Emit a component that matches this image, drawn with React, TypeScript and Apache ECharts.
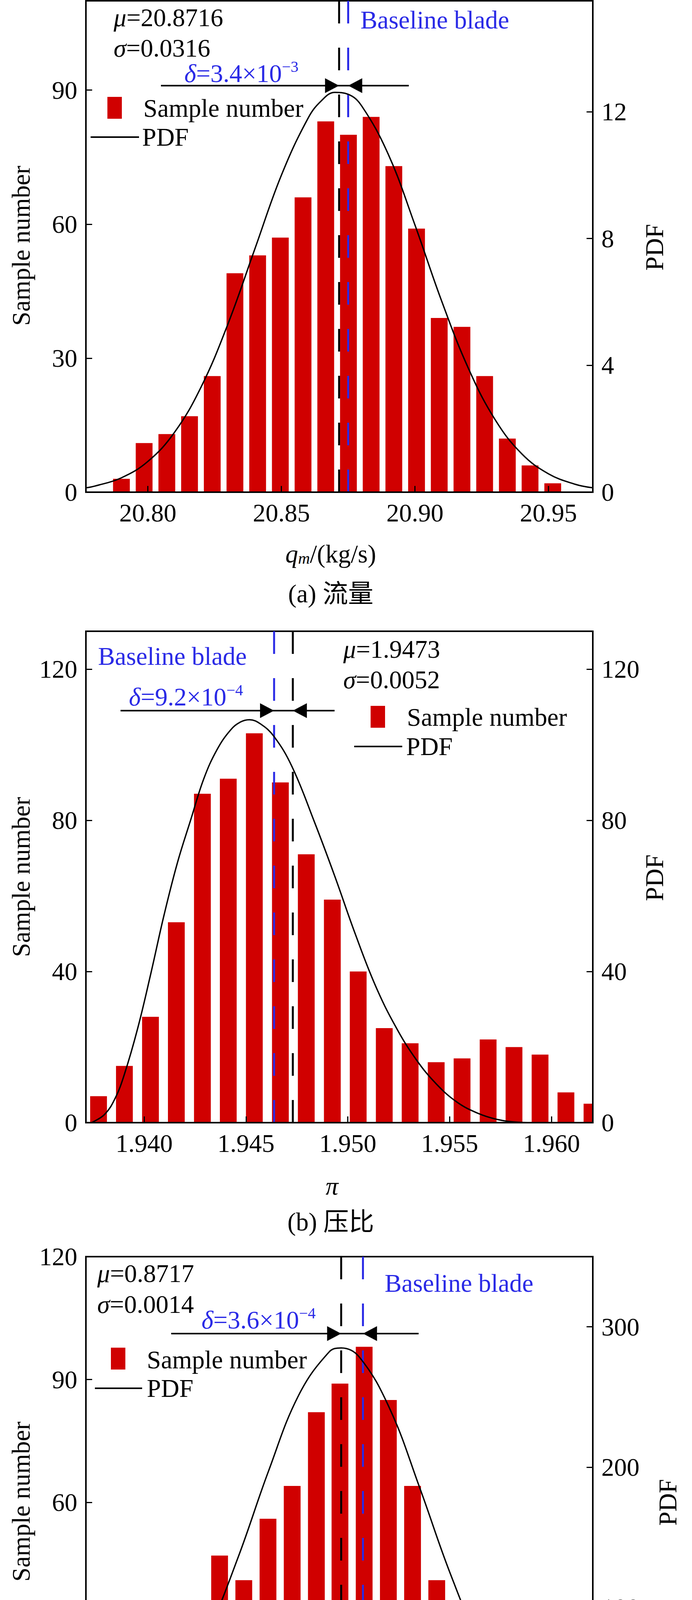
import { useEffect, useRef } from 'react';
import * as echarts from 'echarts';

// ---------- (a) 流量 ----------
const flowBins = [20.7901, 20.7986, 20.8071, 20.8156, 20.8241, 20.8326, 20.8411, 20.8496, 20.8581, 20.8666, 20.8751, 20.8836, 20.8921, 20.9006, 20.9091, 20.9176, 20.9261, 20.9346, 20.9431, 20.9516];
const flowCounts = [3, 11, 13, 17, 26, 49, 53, 57, 66, 83, 80, 84, 73, 59, 39, 37, 26, 12, 6, 2];
const flowPdfX = [20.777, 20.78, 20.79, 20.8, 20.81, 20.82, 20.83, 20.84, 20.85, 20.86, 20.865, 20.87, 20.875, 20.88, 20.89, 20.9, 20.91, 20.92, 20.93, 20.94, 20.95, 20.96, 20.9665];
const flowPdfY = [0.14, 0.19, 0.45, 0.97, 1.89, 3.33, 5.31, 7.66, 10.0, 11.8, 12.35, 12.61, 12.55, 12.19, 10.66, 8.43, 6.03, 3.91, 2.29, 1.21, 0.58, 0.25, 0.14];
const flowRange = [20.7768, 20.9666];
const flowTicks = [20.8, 20.85, 20.9, 20.95];
const flowCountTicks = [0, 30, 60, 90];
const flowPdfTicks = [0, 4, 8, 12];
const flowMu = 20.8716;
const flowBase = 20.875;
const flowArrow = [20.8049, 20.8977];

// ---------- (b) 压比 ----------
const ratioBins = [1.93776, 1.93903, 1.94031, 1.94158, 1.94286, 1.94413, 1.94541, 1.94669, 1.94796, 1.94924, 1.95051, 1.95179, 1.95306, 1.95434, 1.95561, 1.95689, 1.95816, 1.95944, 1.96071, 1.96199];
const ratioCounts = [7, 15, 28, 53, 87, 91, 103, 90, 71, 59, 40, 25, 21, 16, 17, 22, 20, 18, 8, 5];
const ratioPdfX = [1.93741, 1.93806, 1.93858, 1.93903, 1.93968, 1.94033, 1.94098, 1.94163, 1.94228, 1.94293, 1.94358, 1.94423, 1.94473, 1.94517, 1.94571, 1.94637, 1.94725, 1.94835, 1.94936, 1.95036, 1.95136, 1.95236, 1.95337, 1.95437, 1.95537, 1.95638, 1.95738, 1.95838, 1.95939];
const ratioPdfY = [0, 2.2, 6.5, 12.8, 24.9, 39.5, 55, 68.7, 80, 91, 98.7, 103.8, 106, 106.6, 105.5, 102.2, 94.3, 79.7, 65.2, 50, 36.2, 25.3, 16.6, 10.1, 5.4, 2.5, 0.8, 0.1, 0];
const ratioRange = [1.93714, 1.96203];
const ratioTicks = [1.94, 1.945, 1.95, 1.955, 1.96];
const ratioCountTicks = [0, 40, 80, 120];
const ratioPdfTicks = [0, 40, 80, 120];
const ratioMu = 1.9473;
const ratioBase = 1.94638;
const ratioArrow = [1.93884, 1.94935];

// ---------- (c) 效率 ----------
const effBins = [0.86769, 0.86809, 0.86849, 0.86889, 0.86929, 0.86969, 0.87009, 0.87049, 0.87089, 0.87129, 0.87168, 0.87208, 0.87248, 0.87288, 0.87328, 0.87368, 0.87408, 0.87448, 0.87488, 0.87528];
const effCounts = [2, 5, 11, 13, 17, 47, 41, 56, 64, 82, 89, 98, 85, 64, 41, 35, 22, 15, 7, 2];
const effPdfX = [0.8675, 0.868, 0.8685, 0.869, 0.8695, 0.87, 0.8705, 0.871, 0.8715, 0.8717, 0.872, 0.8725, 0.873, 0.8735, 0.874, 0.8745, 0.875, 0.8755, 0.87586];
const effPdfY = [3.2, 8.7, 20.9, 44.4, 82.9, 136.3, 197.4, 251.5, 282.1, 285, 278.5, 242, 185.2, 124.7, 73.9, 38.6, 17.7, 7.2, 3.5];
const effRange = [0.86748, 0.87586];
const effTicks = [0.868, 0.87, 0.872, 0.874];
const effCountTicks = [0, 30, 60, 90, 120];
const effPdfTicks = [0, 100, 200, 300];
const effMu = 0.8717;
const effBase = 0.87206;
const effArrow = [0.86889, 0.87298];

const RED = '#d00000';
const BLUE = '#2a2ae6';
const SERIF = '"Liberation Serif", "Times New Roman", serif';
const CAPTION_FONT = '"Liberation Serif", "Noto Sans CJK SC", serif';
const FS = 65;

const GRID_LEFT = 220;
const GRID_WIDTH = 1298;
const GRID_HEIGHT = 1258;
const BAR_W = 43;

const panels = [
  {
    top: 2, range: flowRange, ticks: flowTicks, digits: 2,
    countMax: 110, countTicks: flowCountTicks, pdfMax: 15.5, pdfTicks: flowPdfTicks,
    bins: flowBins, counts: flowCounts, pdfX: flowPdfX, pdfY: flowPdfY,
    mu: flowMu, base: flowBase, arrowSpan: flowArrow, arrowLevel: 91,
  },
  {
    top: 1616, range: ratioRange, ticks: ratioTicks, digits: 3,
    countMax: 130, countTicks: ratioCountTicks, pdfMax: 130, pdfTicks: ratioPdfTicks,
    bins: ratioBins, counts: ratioCounts, pdfX: ratioPdfX, pdfY: ratioPdfY,
    mu: ratioMu, base: ratioBase, arrowSpan: ratioArrow, arrowLevel: 109,
  },
  {
    top: 3217, range: effRange, ticks: effTicks, digits: 3,
    countMax: 120, countTicks: effCountTicks, pdfMax: 350, pdfTicks: effPdfTicks,
    bins: effBins, counts: effCounts, pdfX: effPdfX, pdfY: effPdfY,
    mu: effMu, base: effBase, arrowSpan: effArrow, arrowLevel: 101.2,
  },
];

const rich = {
  n: { fontSize: FS, fontFamily: SERIF, lineHeight: 70, verticalAlign: 'bottom' },
  i: { fontSize: FS, fontFamily: SERIF, fontStyle: 'italic', lineHeight: 70, verticalAlign: 'bottom' },
  sup: { fontSize: 40, fontFamily: SERIF, lineHeight: 40, verticalAlign: 'top' },
  sub: { fontSize: 42, fontFamily: SERIF, fontStyle: 'italic', lineHeight: 42, verticalAlign: 'bottom' },
};

function text(x: number, y: number, t: string, fill = '#000', align = 'left', extra: any = {}, font = SERIF) {
  return {
    type: 'text',
    x,
    y,
    silent: true,
    z: 100,
    ...extra,
    style: { text: t, fill, fontSize: FS, fontFamily: font, align, verticalAlign: 'middle', rich },
  };
}

function legend(rectX: number, rectY: number, textX: number, textY: number, lineX1: number, lineX2: number, lineY: number, pdfX: number) {
  return [
    { type: 'rect', shape: { x: rectX, y: rectY, width: 37, height: 56 }, style: { fill: RED }, z: 100 },
    text(textX, textY, 'Sample number'),
    { type: 'line', shape: { x1: lineX1, y1: lineY, x2: lineX2, y2: lineY }, style: { stroke: '#000', lineWidth: 4 }, z: 100 },
    text(pdfX, lineY, 'PDF'),
  ];
}

// vertical dashed marker from the top of the frame down to zero
function dashed(i: number, x: number, top: number, color: string) {
  return {
    type: 'line', xAxisIndex: i, yAxisIndex: 2 * i,
    data: [[x, top], [x, 0]], symbol: 'none', silent: true, z: 3,
    lineStyle: { color, type: [58, 62], width: 5 },
  };
}

export default function App() {
  const chartRef = useRef<HTMLDivElement>(null);

  useEffect(() => {
    if (!chartRef.current) return;
    document.body.style.margin = '0';
    const chart = echarts.init(chartRef.current, null, { renderer: 'svg' });

    const axisLabelBase = { color: '#000', fontSize: FS, fontFamily: SERIF };
    const tickBase = { show: true, inside: true, length: 16, lineStyle: { color: '#000', width: 3 } };
    const lineBase = { show: true, onZero: false, lineStyle: { color: '#000', width: 4 } };

    const option: any = {
      animation: false,
      backgroundColor: '#fff',
      grid: panels.map((p) => ({
        left: GRID_LEFT, width: GRID_WIDTH, top: p.top, height: GRID_HEIGHT,
        show: true, borderColor: '#000', borderWidth: 4, backgroundColor: 'transparent',
      })),
      xAxis: panels.map((p, i) => ({
        type: 'value', gridIndex: i, min: p.range[0], max: p.range[1], z: 10,
        axisLine: lineBase,
        axisTick: { ...tickBase, customValues: p.ticks },
        axisLabel: { ...axisLabelBase, margin: 20, customValues: p.ticks, formatter: (v: number) => v.toFixed(p.digits) },
        splitLine: { show: false },
      })),
      yAxis: panels.flatMap((p, i) => [
        {
          type: 'value', gridIndex: i, position: 'left', min: 0, max: p.countMax, z: 10,
          axisLine: lineBase,
          axisTick: { ...tickBase, customValues: p.countTicks },
          axisLabel: { ...axisLabelBase, margin: 22, customValues: p.countTicks },
          splitLine: { show: false },
        },
        {
          type: 'value', gridIndex: i, position: 'right', min: 0, max: p.pdfMax, z: 10,
          axisLine: lineBase,
          axisTick: { ...tickBase, customValues: p.pdfTicks },
          axisLabel: { ...axisLabelBase, margin: 22, customValues: p.pdfTicks },
          splitLine: { show: false },
        },
      ]),
      series: panels.flatMap((p, i) => [
        {
          // histogram bars, clipped at the frame like the original
          type: 'custom', name: 'Sample number', xAxisIndex: i, yAxisIndex: 2 * i,
          data: p.bins.map((b, k) => [b, p.counts[k]]),
          z: 2,
          renderItem: (params: any, api: any) => {
            const top = api.coord([api.value(0), api.value(1)]);
            const base = api.coord([api.value(0), 0]);
            const cs = params.coordSys;
            const shape = echarts.graphic.clipRectByRect(
              { x: top[0] - BAR_W / 2, y: top[1], width: BAR_W, height: base[1] - top[1] },
              { x: cs.x, y: cs.y, width: cs.width, height: cs.height },
            );
            return shape && { type: 'rect', shape, style: { fill: RED } };
          },
        },
        dashed(i, p.mu, p.countMax, '#000'),
        dashed(i, p.base, p.countMax, BLUE),
        {
          type: 'line', name: 'PDF', xAxisIndex: i, yAxisIndex: 2 * i + 1,
          data: p.pdfX.map((x, k) => [x, p.pdfY[k]]),
          smooth: 0.4, symbol: 'none', clip: true, z: 4,
          lineStyle: { color: '#000', width: 3.5 },
        },
      ]),
    };

    chart.setOption(option);

    const px = (axis: number, v: number) => chart.convertToPixel({ xAxisIndex: axis }, v) as number;
    const py = (axis: number, v: number) => chart.convertToPixel({ yAxisIndex: axis }, v) as number;

    const arrows = panels.flatMap((p, i) => {
      const y = py(2 * i, p.arrowLevel);
      const xa = px(i, p.arrowSpan[0]);
      const xb = px(i, p.arrowSpan[1]);
      const lo = px(i, Math.min(p.mu, p.base));
      const hi = px(i, Math.max(p.mu, p.base));
      return [
        { type: 'line', shape: { x1: xa, y1: y, x2: xb, y2: y }, style: { stroke: '#000', lineWidth: 4 }, z: 90 },
        { type: 'polygon', shape: { points: [[lo, y], [lo - 36, y - 19], [lo - 36, y + 19]] }, style: { fill: '#000' }, z: 90 },
        { type: 'polygon', shape: { points: [[hi, y], [hi + 36, y - 19], [hi + 36, y + 19]] }, style: { fill: '#000' }, z: 90 },
      ];
    });

    const rot = { rotation: Math.PI / 2 };
    const graphic = [
      ...arrows,
      // (a)
      text(291, 42, '{i|μ}{n|=20.8716}'),
      text(291, 120, '{i|σ}{n|=0.0316}'),
      text(472, 185, '{i|δ}{n|=3.4×10}{sup|−3}', BLUE),
      text(923, 51, 'Baseline blade', BLUE),
      ...legend(275, 248, 367, 277, 232, 356, 351, 364),
      text(54, 629, 'Sample number', '#000', 'center', rot),
      text(1676, 633, 'PDF', '#000', 'center', rot),
      text(847, 1415, '{i|q}{sub|m}{n|/(kg/s)}', '#000', 'center'),
      text(847, 1520, '(a) 流量', '#000', 'center', {}, CAPTION_FONT),
      // (b)
      text(251, 1680, 'Baseline blade', BLUE),
      text(330, 1781, '{i|δ}{n|=9.2×10}{sup|−4}', BLUE),
      text(879, 1659, '{i|μ}{n|=1.9473}'),
      text(879, 1737, '{i|σ}{n|=0.0052}'),
      ...legend(949, 1807, 1042, 1836, 907, 1030, 1911, 1040),
      text(54, 2245, 'Sample number', '#000', 'center', rot),
      text(1676, 2247, 'PDF', '#000', 'center', rot),
      text(850, 3033, '{i|π}', '#000', 'center'),
      text(847, 3128, '(b) 压比', '#000', 'center', {}, CAPTION_FONT),
      // (c)
      text(249, 3257, '{i|μ}{n|=0.8717}'),
      text(249, 3336, '{i|σ}{n|=0.0014}'),
      text(516, 3376, '{i|δ}{n|=3.6×10}{sup|−4}', BLUE),
      text(985, 3285, 'Baseline blade', BLUE),
      ...legend(284, 3450, 376, 3481, 243, 364, 3554, 376),
      text(54, 3844, 'Sample number', '#000', 'center', rot),
      text(1710, 3846, 'PDF', '#000', 'center', rot),
      text(867, 4641, '{i|η}', '#000', 'center'),
      text(847, 4731, '(c) 效率', '#000', 'center', {}, CAPTION_FONT),
    ];

    chart.setOption({ graphic });

    return () => {
      chart.dispose();
    };
  }, []);

  return <div ref={chartRef} style={{ width: '1772px', height: '4773px' }} />;
}
